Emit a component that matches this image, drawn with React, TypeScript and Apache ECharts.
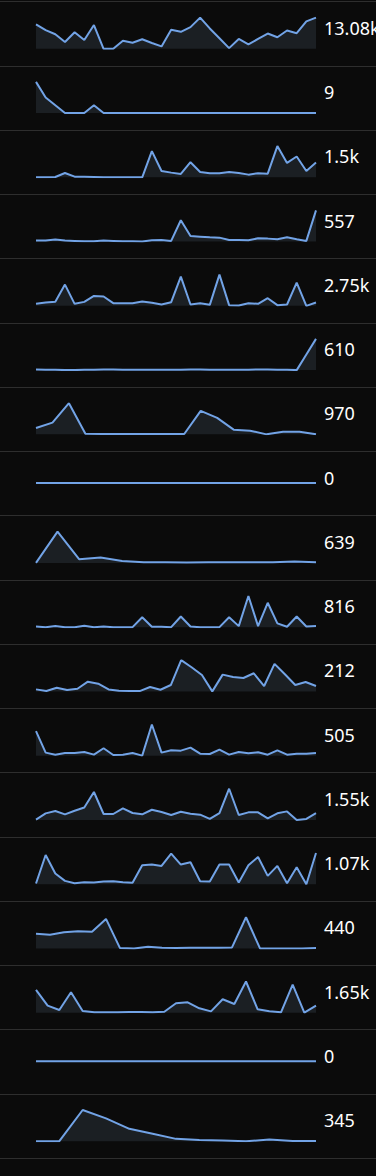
import React, { useEffect, useRef } from "react";
import * as echarts from "echarts";

// Labels shown at the right of each sparkline
const labels = [
  "13.08k", "9", "1.5k", "557", "2.75k", "610", "970", "0", "639",
  "816", "212", "505", "1.55k", "1.07k", "440", "1.65k", "0", "345",
];

// Series values
const s01 = [563, 495, 447, 355, 471, 379, 555, 275, 275, 371, 347, 387, 343, 303, 499, 475, 531, 643, 515, 399, 283, 391, 327, 391, 455, 411, 491, 459, 599, 643];
const s02 = [4, 2, 1, 0, 0, 0, 1, 0, 0, 0, 0, 0, 0, 0, 0, 0, 0, 0, 0, 0, 0, 0, 0, 0, 0, 0, 0, 0, 0, 0];
const s03 = [12, 12, 14, 38, 16, 16, 14, 12, 12, 12, 12, 12, 168, 50, 40, 32, 102, 44, 36, 36, 44, 38, 28, 36, 34, 198, 98, 136, 50, 100];
const s04 = [8, 8, 11, 8, 7, 6, 6, 8, 7, 6, 6, 5, 9, 10, 7, 70, 22, 20, 18, 17, 10, 10, 9, 15, 14, 12, 18, 12, 7, 100];
const s05 = [52, 60, 64, 168, 52, 64, 100, 96, 56, 56, 56, 66, 58, 48, 62, 216, 48, 56, 46, 228, 44, 42, 56, 52, 86, 44, 48, 180, 40, 60];
const s06 = [11, 8, 8, 5, 5, 8, 8, 11, 11, 8, 8, 8, 8, 8, 8, 8, 11, 11, 8, 8, 8, 8, 8, 11, 11, 8, 8, 5, 146, 287];
const s07 = [76, 140, 372, 8, 4, 4, 4, 4, 4, 4, 280, 196, 56, 44, 0, 32, 32, 0];
const s08 = [0, 0, 0, 0, 0, 0, 0, 0, 0, 0, 0, 0, 0, 0, 0, 0, 0, 0, 0, 0, 0, 0, 0, 0, 0, 0, 0, 0, 0, 0];
const s09 = [0, 282, 33, 48, 18, 6, 6, 3, 6, 6, 6, 6, 12, 6];
const s10 = [16, 12, 18, 12, 12, 20, 12, 16, 12, 12, 12, 70, 14, 14, 12, 74, 16, 12, 12, 12, 70, 18, 194, 18, 154, 34, 14, 74, 16, 18];
const s11 = [8, 3, 13, 6, 10, 31, 25, 8, 4, 3, 3, 15, 7, 21, 95, 74, 51, 2, 52, 45, 42, 56, 18, 84, 53, 21, 30, 18];
const s12 = [83, 19, 13, 18, 18, 21, 13, 32, 12, 13, 18, 10, 103, 19, 26, 25, 34, 16, 15, 28, 13, 21, 17, 20, 13, 26, 13, 16, 16, 18];
const s13 = [32, 70, 84, 64, 86, 106, 200, 66, 66, 100, 72, 64, 92, 78, 60, 80, 68, 62, 36, 72, 220, 60, 76, 76, 40, 70, 82, 30, 36, 72];
const s14 = [8, 180, 68, 24, 10, 16, 14, 20, 22, 16, 12, 118, 122, 114, 188, 122, 136, 22, 20, 122, 122, 14, 118, 168, 54, 114, 10, 106, 4, 192];
const s15 = [49, 46, 54, 57, 55, 94, 6, 5, 10, 7, 6, 7, 7, 7, 8, 99, 5, 5, 5, 5, 6];
const s16 = [146, 52, 26, 132, 20, 12, 12, 12, 14, 14, 12, 16, 66, 72, 36, 18, 90, 62, 196, 30, 18, 12, 178, 10, 52];
const s17 = [0, 0, 0, 0, 0, 0, 0, 0, 0, 0, 0, 0, 0, 0, 0, 0, 0, 0, 0, 0, 0, 0, 0, 0, 0, 0, 0, 0, 0, 0];
const s18 = [2, 2, 95, 70, 39, 24, 9, 6, 4, 2, 7, 3, 3];

const seriesList = [s01, s02, s03, s04, s05, s06, s07, s08, s09, s10, s11, s12, s13, s14, s15, s16, s17, s18];

const W = 376;
const H = 1176;
const ROW_H = 64.26;
const TOP0 = 1.3;
const LINE_COLOR = "#72a3e6";
const AREA_COLOR = "#1b1f23";
const BG = "#0b0b0b";
const SEP = "#2e2e2e";

export default function App() {
  const ref = useRef<HTMLDivElement>(null);

  useEffect(() => {
    document.body.style.margin = "0";
    document.body.style.background = BG;
    if (!ref.current) return;
    const chart = echarts.init(ref.current, null, { renderer: "svg" });

    const graphics: any[] = [];
    for (let i = 0; i <= seriesList.length; i++) {
      const y = Math.round(TOP0 + i * ROW_H) + 0.5;
      graphics.push({
        type: "line",
        shape: { x1: 0, y1: y, x2: W, y2: y },
        style: { stroke: SEP, lineWidth: 1 },
        silent: true,
      });
    }
    labels.forEach((t, i) => {
      graphics.push({
        type: "text",
        x: 324,
        y: TOP0 + i * ROW_H + 26.5,
        style: {
          text: t,
          fill: "#ffffff",
          font: '18px "Noto Sans", sans-serif',
          textVerticalAlign: "middle",
          textAlign: "left",
        },
        silent: true,
      });
    });

    const option: any = {
      animation: false,
      backgroundColor: BG,
      grid: seriesList.map((_, i) => ({
        left: 36,
        width: 280,
        top: TOP0 + i * ROW_H + 16.3,
        height: 31.2,
      })),
      xAxis: seriesList.map((d, i) => ({
        type: "category",
        gridIndex: i,
        data: d.map((_, j) => String(j)),
        boundaryGap: false,
        show: false,
      })),
      yAxis: seriesList.map((d, i) => {
        const allZero = d.every((v) => v === 0);
        return {
          type: "value",
          gridIndex: i,
          show: false,
          min: allZero ? -1 : "dataMin",
          max: allZero ? 1 : "dataMax",
        };
      }),
      series: seriesList.map((d, i) => ({
        type: "line",
        xAxisIndex: i,
        yAxisIndex: i,
        data: d,
        symbol: "none",
        silent: true,
        lineStyle: { color: LINE_COLOR, width: 2 },
        areaStyle: { color: AREA_COLOR, opacity: 1 },
      })),
      graphic: graphics,
    };
    chart.setOption(option);
    return () => chart.dispose();
  }, []);

  return <div ref={ref} style={{ width: W, height: H }} />;
}
